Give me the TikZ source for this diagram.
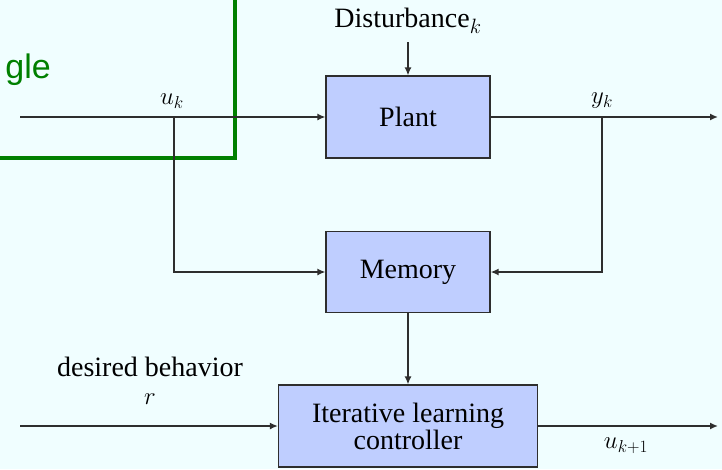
\documentclass[tikz,border=0pt]{standalone}
\usepackage{fontspec}
\setmainfont{Liberation Serif}
\newfontfamily\gsans{Liberation Sans}
\usetikzlibrary{arrows.meta}
\definecolor{bgc}{HTML}{F0FEFF}
\definecolor{boxc}{HTML}{BFCEFF}
\definecolor{linec}{HTML}{2E2E2E}
\definecolor{grn}{HTML}{008000}
\begin{document}
\begin{tikzpicture}[x=1pt,y=-1pt,
  blk/.style={draw=linec,line width=1.2pt,fill=boxc,inner sep=0pt,
    font=\fontsize{28}{31}\selectfont,align=center},
  conn/.style={draw=linec,line width=1.5pt,-{Latex[length=8pt,width=7pt]}},
  lbl/.style={inner sep=0pt,font=\fontsize{28}{31}\selectfont},
  mlbl/.style={inner sep=0pt,font=\fontsize{26}{28}\selectfont}]
\useasboundingbox (0,0) rectangle (722,469);
\fill[bgc] (0,0) rectangle (722,469);
\begin{scope}
\clip (0,0) rectangle (722,469);
% green partial rectangle
\draw[grn,line width=4pt] (-20,-20) -- (235,-20) -- (235,158) -- (-20,158);
\node[anchor=base east,inner sep=0pt,text=grn,font=\gsans\fontsize{34}{36}\selectfont] (gl) at (51,78) {gle};
\end{scope}
% blocks
\node[blk,minimum width=164pt,minimum height=82pt] (plant) at (408,117) {Plant};
\node[blk,minimum width=164pt,minimum height=81pt] (mem) at (408,272) {Memory};
\node[blk,minimum width=259pt,minimum height=82pt] (ilc) at (408,426) {Iterative learning\\[-4pt]controller};
% coordinates
\coordinate (in1) at (20,117);
\coordinate (usplit) at (174,117);
\coordinate (ysplit) at (602,117);
\coordinate (out1) at (718,117);
\coordinate (dtop) at (408,42);
\coordinate (in2) at (20,426);
\coordinate (out2) at (718,426);
% connectors
\draw[conn] (in1) -- (plant.west);
\draw[conn] (plant.east) -- (out1);
\draw[conn] (dtop) -- (plant.north);
\draw[conn] (usplit) |- (mem.west);
\draw[conn] (ysplit) |- (mem.east);
\draw[conn] (mem.south) -- (ilc.north);
\draw[conn] (in2) -- (ilc.west);
\draw[conn] (ilc.east) -- (out2);
% labels
\node[lbl] (dist) at (408,21) {Disturbance$_k$};
\node[mlbl] (ulab) at (172,101) {$u_k$};
\node[mlbl] (ylab) at (602,101) {$y_k$};
\node[lbl] (des) at (150,367) {desired behavior};
\node[mlbl] (rlab) at (150,399) {$r$};
\node[mlbl] (u2lab) at (626,446) {$u_{k+1}$};
\end{tikzpicture}
\end{document}
